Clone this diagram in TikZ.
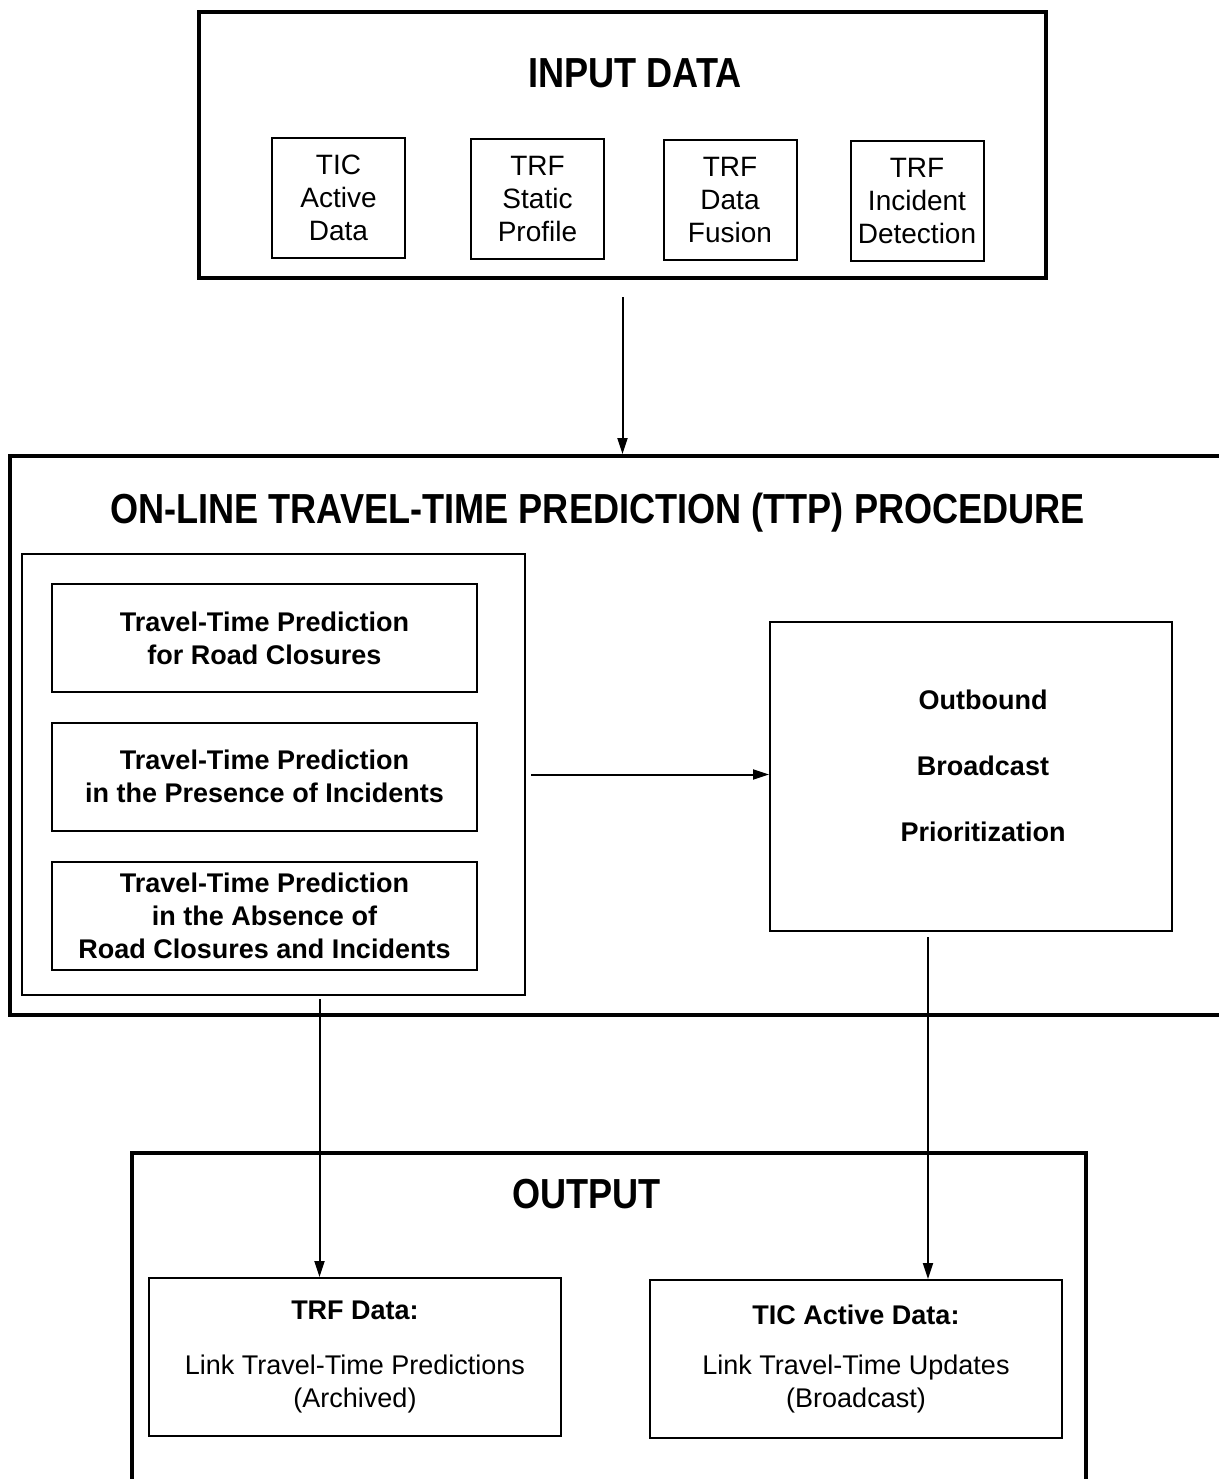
\documentclass[tikz,border=0pt]{standalone}
\usepackage{fontspec}
\setmainfont{Liberation Sans}
\newfontfamily\headfont[FakeStretch=0.86]{Liberation Sans}
\usetikzlibrary{arrows.meta,positioning,calc}

\begin{document}
\begin{tikzpicture}[
    x=0.5pt, y=-0.5pt,
    outerbox/.style={draw, line width=2pt, inner sep=0pt},
    databox/.style={draw, line width=1pt, minimum width=66.5pt, minimum height=60pt, align=center, inner sep=0pt, font=\fontsize{14}{16.5}\selectfont},
    predbox/.style={draw, line width=1pt, minimum width=212.5pt, minimum height=54pt, align=center, inner sep=0pt, font=\bfseries\fontsize{13.5}{16.5}\selectfont},
    outbox/.style={draw, line width=1pt, minimum width=206pt, minimum height=79pt, align=center, inner sep=0pt, font=\fontsize{13.5}{16.5}\selectfont},
    heading/.style={font=\headfont\bfseries\fontsize{21}{24}\selectfont},
    flow/.style={-{Triangle[length=8pt,width=5pt]}, line width=1pt},
]
    \useasboundingbox (0,0) rectangle (1219,1479);
    \clip (0,0) rectangle (1219,1479);

    % input stage
    \node[outerbox, minimum width=423.5pt, minimum height=133pt] (inputbox) at (622.5,145) {};
    \node[heading] (inputtitle) at (635,73) {INPUT DATA};
    \foreach \nm/\cx/\cy/\txt in {ticdata/338.5/198/{TIC\\Active\\Data},
                                 trfstatic/537.5/198.5/{TRF\\Static\\Profile},
                                 trffusion/730/199.5/{TRF\\Data\\Fusion},
                                 trfincident/917/200.5/{TRF\\Incident\\Detection}} {
        \node[databox] (\nm) at (\cx,\cy) {\txt};
    }

    % TTP procedure
    \node[outerbox, minimum width=615pt, minimum height=279.5pt] (ttpbox) at (625,735.5) {};
    \node[heading] (ttptitle) at (597.5,513) {ON-LINE TRAVEL-TIME PREDICTION (TTP) PROCEDURE};
    \node[draw, line width=1pt, minimum width=251.5pt, minimum height=220.5pt] (predgroup) at (273.5,774.5) {};
    \node[predbox] (closure) at (264.5,638) {Travel-Time Prediction\\for Road Closures};
    \node[predbox] (incident) at (264.5,776.5) {Travel-Time Prediction\\in the Presence of Incidents};
    \node[predbox] (normal) at (264.5,915.5) {Travel-Time Prediction\\in the Absence of\\Road Closures and Incidents};
    \node[draw, line width=1pt, minimum width=201pt, minimum height=154.5pt] (prio) at (971,776.5) {};
    \node[align=center, font=\bfseries\fontsize{13.5}{16.5}\selectfont] (priotext) at (983,766)
        {Outbound\\[16.5pt]Broadcast\\[16.5pt]Prioritization};

    % output stage
    \node[outerbox, minimum width=477pt, minimum height=173.5pt] (outputbox) at (609,1326.5) {};
    \node[heading] (outputtitle) at (586.5,1194) {OUTPUT};
    \node[outbox] (archive) at (355,1357) {\textbf{TRF Data:}\\[11pt]Link Travel-Time Predictions\\(Archived)};
    \node[outbox] (broadcast) at (856,1359) {\textbf{TIC Active Data:}\\[8.5pt]Link Travel-Time Updates\\(Broadcast)};

    % connectors
    \draw[flow] ([yshift=-8.5pt]inputbox.south) -- (inputbox.south |- ttpbox.north);
    \draw[flow] ([xshift=2.5pt]predgroup.east) -- (predgroup.east -| prio.west);
    \draw[flow] ([xshift=23pt,yshift=-1.5pt]predgroup.south) -- ([xshift=23pt]predgroup.south |- archive.north);
    \draw[flow] ([xshift=-21.5pt,yshift=-2.5pt]prio.south) -- ([xshift=-21.5pt]prio.south |- broadcast.north);
\end{tikzpicture}
\end{document}
